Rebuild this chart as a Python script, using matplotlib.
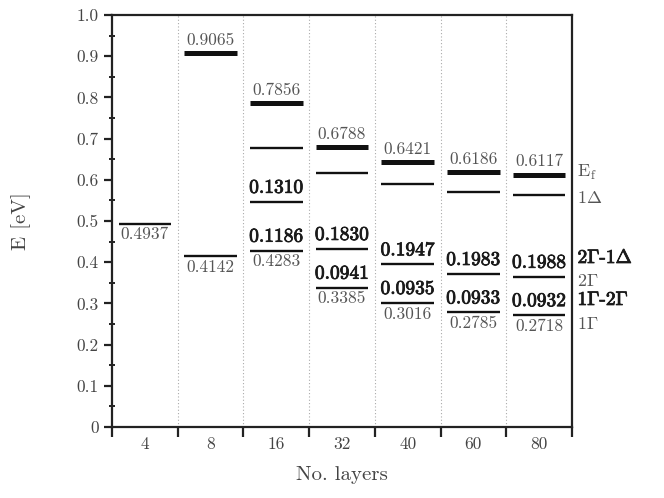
import numpy as np
import matplotlib
matplotlib.use('Agg')
import matplotlib.pyplot as plt
import matplotlib.patheffects as pe
from matplotlib.ticker import MultipleLocator, FuncFormatter, FixedLocator

plt.rcParams['mathtext.fontset'] = 'cm'
plt.rcParams['font.family'] = 'serif'
plt.rcParams['font.serif'] = ['cmr10', 'DejaVu Serif']
plt.rcParams['axes.unicode_minus'] = False
plt.rcParams['axes.formatter.use_mathtext'] = True

# ---- data ----
layers = ['4', '8', '16', '32', '40', '60', '80']
# Fermi level (thick lines), None where not drawn
e_fermi = [None, 0.9065, 0.7856, 0.6788, 0.6421, 0.6186, 0.6117]
# lowest level 1Gamma (for 4 layers the single level)
e_1gamma = [0.4937, 0.4142, 0.4283, 0.3385, 0.3016, 0.2785, 0.2718]
e_2gamma = [None, None, 0.5469, 0.4326, 0.3951, 0.3718, 0.3650]
e_1delta = [None, None, 0.6779, 0.6156, 0.5898, 0.5701, 0.5638]
# gaps written in bold
gap_1g_2g = [None, None, 0.1186, 0.0941, 0.0935, 0.0933, 0.0932]
gap_2g_1d = [None, None, 0.1310, 0.1830, 0.1947, 0.1983, 0.1988]

line_col = '#111111'
lbl_col = '#555555'
bold_col = '#1a1a1a'
# cmr10 thickened with a stroke, looks closer to cmbx than cmb10
bold_fx = [pe.withStroke(linewidth=0.6, foreground=bold_col)]

fig = plt.figure(figsize=(6.64, 4.98), dpi=100)
ax = fig.add_axes([0.1687, 0.1426, 0.6927, 0.8274])

def seg(i, y, lw):
    ax.hlines(y, i + 0.1, i + 0.9, color=line_col, lw=lw)

for i in range(len(layers)):
    xc = i + 0.5
    if e_fermi[i] is not None:
        seg(i, e_fermi[i], 3.6)
        ax.annotate('%.4f' % e_fermi[i], (xc, e_fermi[i]), xytext=(0, 4),
                    textcoords='offset points', ha='center', va='bottom',
                    fontsize=12.5, color=lbl_col)
    seg(i, e_1gamma[i], 1.7)
    ax.annotate('%.4f' % e_1gamma[i], (xc, e_1gamma[i]), xytext=(0, -2.5),
                textcoords='offset points', ha='center', va='top',
                fontsize=12.5, color=lbl_col)
    if e_2gamma[i] is not None:
        seg(i, e_2gamma[i], 1.7)
        ax.annotate('%.4f' % gap_1g_2g[i], (xc, e_1gamma[i]), xytext=(0, 3.5),
                    textcoords='offset points', ha='center', va='bottom',
                    fontsize=14, color=bold_col, path_effects=bold_fx)
    if e_1delta[i] is not None:
        seg(i, e_1delta[i], 1.7)
        ax.annotate('%.4f' % gap_2g_1d[i], (xc, e_2gamma[i]), xytext=(0, 3.5),
                    textcoords='offset points', ha='center', va='bottom',
                    fontsize=14, color=bold_col, path_effects=bold_fx)

# right side level names
tr = ax.get_yaxis_transform()
ax.text(1.012, 0.619, r'$\mathrm{E_f}$', transform=tr, va='center', ha='left',
        fontsize=13, color=lbl_col)
ax.text(1.012, 0.556, r'$1\Delta$', transform=tr, va='center', ha='left',
        fontsize=13, color=lbl_col)
ax.text(1.012, 0.410, r'$2\Gamma$-$1\Delta$', transform=tr, va='center', ha='left',
        fontsize=14, color=bold_col, path_effects=bold_fx)
ax.text(1.012, 0.354, r'$2\Gamma$', transform=tr, va='center', ha='left',
        fontsize=13, color=lbl_col)
ax.text(1.012, 0.308, r'$1\Gamma$-$2\Gamma$', transform=tr, va='center', ha='left',
        fontsize=14, color=bold_col, path_effects=bold_fx)
ax.text(1.012, 0.250, r'$1\Gamma$', transform=tr, va='center', ha='left',
        fontsize=13, color=lbl_col)

ax.set_xlim(0, len(layers))
ax.set_ylim(0, 1.0)

ax.xaxis.set_major_locator(FixedLocator(np.arange(len(layers) + 1)))
ax.xaxis.set_major_formatter(FuncFormatter(lambda v, p: ''))
ax.xaxis.set_minor_locator(FixedLocator(np.arange(len(layers)) + 0.5))
ax.set_xticklabels(layers, minor=True)
ax.tick_params(axis='x', which='major', direction='out', length=7, width=1.6,
               color='#222222')
ax.tick_params(axis='x', which='minor', length=0, pad=7, labelsize=12.5,
               labelcolor='#444444')

ax.yaxis.set_major_locator(MultipleLocator(0.1))
ax.yaxis.set_minor_locator(MultipleLocator(0.05))
ax.yaxis.set_major_formatter(FuncFormatter(lambda v, p: '0' if abs(v) < 1e-9 else '%.1f' % v))
ax.tick_params(axis='y', which='major', direction='out', length=6, width=1.6,
               color='#222222', labelsize=12.5, labelcolor='#444444')
ax.tick_params(axis='y', which='minor', direction='inout', length=5, width=1.4,
               color='#222222')

for b in range(1, len(layers)):
    ax.axvline(b, color='#aaaaaa', lw=0.8, ls=(0, (1, 2)))

for s in ax.spines.values():
    s.set_linewidth(1.6)
    s.set_color('#222222')

ax.set_xlabel('No. layers', fontsize=15, color='#444444', labelpad=10)
ax.set_ylabel('E [eV]', fontsize=15, color='#444444', labelpad=33)

fig.savefig('out.png', dpi=100)
